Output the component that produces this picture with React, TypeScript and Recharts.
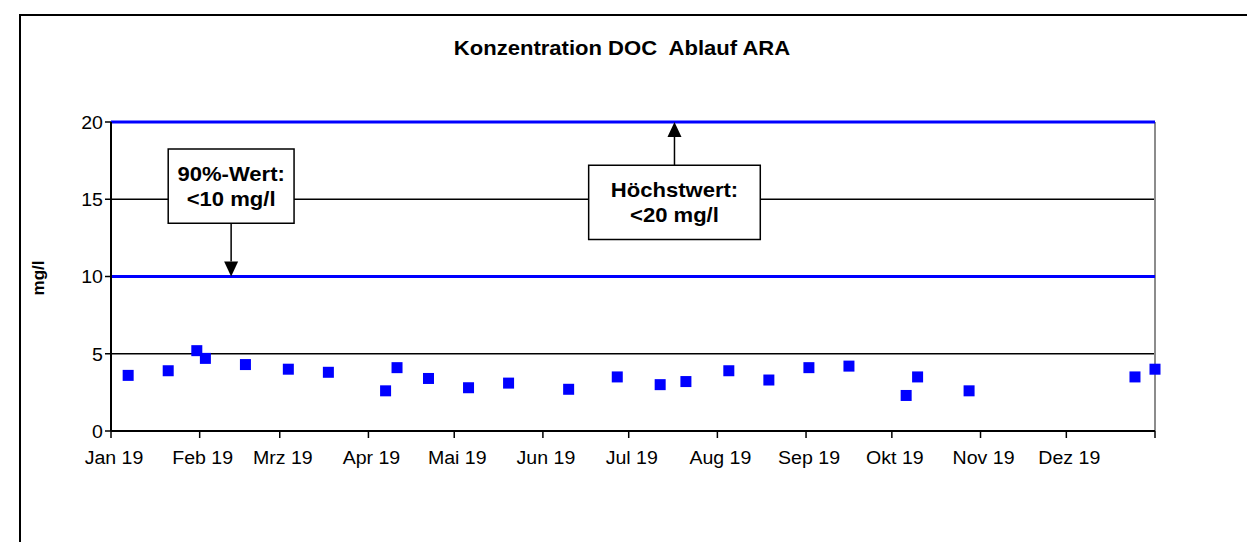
import * as React from "react";
import {
  ScatterChart,
  Scatter,
  XAxis,
  YAxis,
  CartesianGrid,
  ReferenceLine,
  ReferenceArea,
} from "recharts";

// sample dates and DOC concentrations (mg/l)
const sampleDates = [
  "2019-01-07", "2019-01-21", "2019-01-31", "2019-02-03", "2019-02-17",
  "2019-03-04", "2019-03-18", "2019-04-07", "2019-04-11", "2019-04-22",
  "2019-05-06", "2019-05-20", "2019-06-10", "2019-06-27", "2019-07-12",
  "2019-07-21", "2019-08-05", "2019-08-19", "2019-09-02", "2019-09-16",
  "2019-10-06", "2019-10-10", "2019-10-28", "2019-12-25", "2020-01-01",
];
const docValues = [
  3.6, 3.9, 5.2, 4.7, 4.3,
  4.0, 3.8, 2.6, 4.1, 3.4,
  2.8, 3.1, 2.7, 3.5, 3.0,
  3.2, 3.9, 3.3, 4.1, 4.2,
  2.3, 3.5, 2.6, 3.5, 4.0,
];

const monthStarts = [
  "2019-01-01", "2019-02-01", "2019-03-01", "2019-04-01", "2019-05-01", "2019-06-01",
  "2019-07-01", "2019-08-01", "2019-09-01", "2019-10-01", "2019-11-01", "2019-12-01",
  "2020-01-01",
];
const monthLabels = [
  "Jan 19", "Feb 19", "Mrz 19", "Apr 19", "Mai 19", "Jun 19",
  "Jul 19", "Aug 19", "Sep 19", "Okt 19", "Nov 19", "Dez 19", "",
];
const yTicks = [0, 5, 10, 15, 20];
const limitValues = [10, 20];

// annotation boxes in data units (date / mg/l)
const notes = [
  { lines: ["90%-Wert:", "<10 mg/l"], x1: "2019-01-21", x2: "2019-03-06", y1: 13.45, y2: 18.25, arrowTo: 10 },
  { lines: ["Höchstwert:", "<20 mg/l"], x1: "2019-06-17", x2: "2019-08-16", y1: 12.4, y2: 17.2, arrowTo: 20 },
];

const FONT = '"Liberation Sans", Arial, sans-serif';

const dayOf = (s: string) => {
  const [y, m, d] = s.split("-").map(Number);
  return (Date.UTC(y, m - 1, d) - Date.UTC(2019, 0, 1)) / 86400000;
};

const data = sampleDates.map((d, i) => ({ day: dayOf(d), value: docValues[i] }));
const xTicks = monthStarts.map(dayOf);
const labelFor = (day: number) => monthLabels[xTicks.indexOf(day)] ?? "";

const Square = (p: any) => (
  <rect x={p.cx - 5.5} y={p.cy - 5.5} width={11} height={11} fill="#0000ff" />
);

const XTick = (p: any) => (
  <g transform={`translate(${p.x + 3},${p.y}) scale(1.03,1)`}>
    <text textAnchor="middle" dy="0.71em" fontSize={19} fontFamily={FONT} fill="#000">
      {labelFor(p.payload.value)}
    </text>
  </g>
);

const YTick = (p: any) => (
  <g transform={`translate(${p.x + 2},${p.y}) scale(1.03,1)`}>
    <text textAnchor="end" dy="0.36em" fontSize={19} fontFamily={FONT} fill="#000">
      {p.payload.value}
    </text>
  </g>
);

const Arrow = (p: any) => {
  const { x1, y1, x2, y2 } = p;
  const dir = y2 < y1 ? -1 : 1;
  const head = 15;
  return (
    <g>
      <line x1={x1} y1={y1} x2={x2} y2={y2 - dir * head} stroke="#000" strokeWidth={1.5} />
      <polygon
        points={`${x2},${y2} ${x2 - 7},${y2 - dir * head} ${x2 + 7},${y2 - dir * head}`}
        fill="#000"
      />
    </g>
  );
};

const boxLabel = (lines: string[]) => (props: any) => {
  const vb = props.viewBox;
  const cx = vb.x + vb.width / 2;
  const cy = vb.y + vb.height / 2;
  return (
    <g>
      {lines.map((t, i) => (
        <g key={i} transform={`translate(${cx},${cy + (i - 0.5) * 25}) scale(1.05,1)`}>
          <text textAnchor="middle" dy="0.36em" fontSize={21} fontWeight="bold" fontFamily={FONT} fill="#000">
            {t}
          </text>
        </g>
      ))}
    </g>
  );
};

export default function App() {
  return (
    <div style={{ position: "absolute", left: 0, top: 0, width: 1247, height: 542, overflow: "hidden", background: "#fff" }}>
      <div
        style={{
          position: "absolute", left: 19, top: 14, width: 1300, height: 600,
          border: "2px solid #000", boxSizing: "border-box",
        }}
      />
      <div
        style={{
          position: "absolute", left: 622, top: 48, transform: `translate(-50%,-50%) scaleX(1.05)`,
          fontFamily: FONT, fontWeight: "bold", fontSize: 21, whiteSpace: "pre", color: "#000",
        }}
      >
        {"Konzentration DOC  Ablauf ARA"}
      </div>
      <div style={{ position: "absolute", left: 0, top: 0 }}>
        <ScatterChart width={1247} height={542} margin={{ top: 122, right: 92, bottom: 81, left: 51 }}>
          <CartesianGrid horizontal vertical={false} stroke="#000" strokeWidth={1.6} />
          <XAxis
            type="number"
            dataKey="day"
            domain={[0, 365]}
            ticks={xTicks}
            interval={0}
            height={30}
            axisLine={{ stroke: "#000", strokeWidth: 2 }}
            tickLine={{ stroke: "#000", strokeWidth: 1.5 }}
            tickSize={7}
            tickMargin={13}
            tick={<XTick />}
          />
          <YAxis
            type="number"
            dataKey="value"
            domain={[0, 20]}
            ticks={yTicks}
            interval={0}
            width={60}
            axisLine={{ stroke: "#000", strokeWidth: 2 }}
            tickLine={{ stroke: "#000", strokeWidth: 1.5 }}
            tickSize={6}
            tickMargin={4}
            tick={<YTick />}
            label={{
              content: () => (
                <text
                  transform="translate(44,278) rotate(-90)"
                  textAnchor="middle"
                  fontSize={17}
                  fontWeight="bold"
                  fontFamily={FONT}
                  fill="#000"
                >
                  mg/l
                </text>
              ),
            }}
          />
          <ReferenceLine x={365} stroke="#8c8c8c" strokeWidth={2} />
          {limitValues.map((v) => (
            <ReferenceLine key={v} y={v} stroke="#0000ff" strokeWidth={3} />
          ))}
          {notes.map((n, i) => (
            <ReferenceArea
              key={`box${i}`}
              x1={dayOf(n.x1)}
              x2={dayOf(n.x2)}
              y1={n.y1}
              y2={n.y2}
              fill="#fff"
              fillOpacity={1}
              stroke="#000"
              strokeWidth={1.5}
              ifOverflow="visible"
              label={{ content: boxLabel(n.lines) }}
            />
          ))}
          {notes.map((n, i) => {
            const mid = (dayOf(n.x1) + dayOf(n.x2)) / 2;
            const from = n.arrowTo < n.y1 ? n.y1 : n.y2;
            return (
              <ReferenceLine
                key={`arrow${i}`}
                segment={[{ x: mid, y: from }, { x: mid, y: n.arrowTo }]}
                ifOverflow="visible"
                shape={Arrow}
              />
            );
          })}
          <Scatter data={data} shape={Square} isAnimationActive={false} />
        </ScatterChart>
      </div>
    </div>
  );
}
